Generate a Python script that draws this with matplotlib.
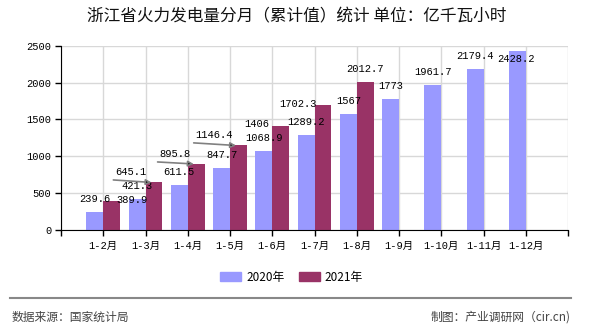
import matplotlib.pyplot as plt
from matplotlib.patches import Patch
from matplotlib.lines import Line2D

# data (亿千瓦小时, cumulative)
months = ['1-2月', '1-3月', '1-4月', '1-5月', '1-6月', '1-7月',
          '1-8月', '1-9月', '1-10月', '1-11月', '1-12月']
values_2020 = [239.6, 421.3, 611.5, 847.7, 1068.9, 1289.2,
               1567, 1773, 1961.7, 2179.4, 2428.2]
values_2021 = [389.9, 645.1, 895.8, 1146.4, 1406, 1702.3, 2012.7]

color_2020 = '#9999FF'
color_2021 = '#993366'
num_font = ['Liberation Mono', 'Noto Sans CJK SC']
cjk_font = ['Noto Sans CJK SC', 'DejaVu Sans']

PX = 0.72  # one pixel in points at dpi 100
UNIT_PX = 507 / 12  # pixels per category slot

fig = plt.figure(figsize=(5.9, 3.3), dpi=100)
ax = fig.add_axes([61 / 590, 100 / 330, 507 / 590, 184.3 / 330])

width = 0.4
x20 = [i + 1 - width / 2 for i in range(len(values_2020))]
x21 = [i + 1 + width / 2 for i in range(len(values_2021))]
ax.bar(x20, values_2020, width=width, color=color_2020, zorder=2)
ax.bar(x21, values_2021, width=width, color=color_2021, zorder=2)

ax.set_xlim(0, 12)
ax.set_ylim(0, 2500)
ax.set_yticks(range(0, 2501, 500))
ax.set_xticks(range(0, 13))
ax.set_xticklabels([''] + months + [''])
for lab in ax.get_xticklabels() + ax.get_yticklabels():
    lab.set_fontfamily(num_font)
    lab.set_fontsize(7.5)
ax.tick_params(axis='both', direction='out', length=4, width=1, color='black')
ax.tick_params(axis='x', pad=4)
ax.tick_params(axis='y', pad=3)
ax.grid(True, color='#d8d8d8', linewidth=1, zorder=0)
ax.set_axisbelow(True)
for s in ['top', 'right']:
    ax.spines[s].set_visible(False)
for s in ['left', 'bottom']:
    ax.spines[s].set_color('black')
    ax.spines[s].set_zorder(3)

# label placement tweaks (pixel offsets: dx, dy above bar top, leader line)
shift_2020 = {10: (-1.5, -8, False)}
shift_2021 = {0: (20, 1, False), 1: (-23, 10.5, True), 2: (-21, 10, True),
              3: (-24, 10.6, True), 4: (-24, 2.5, False), 5: (-25, 0.6, False)}


def put_labels(xs, vals, shifts):
    for i, (x, v) in enumerate(zip(xs, vals)):
        dx, dy, leader = shifts.get(i, (0, 13, False))
        ax.annotate(f'{v:g}', xy=(x, v), xytext=(dx * PX, dy * PX),
                    textcoords='offset points', ha='center', va='center',
                    fontsize=7.5, family=num_font, zorder=5)
        if leader:
            half = len(f'{v:g}') * 6.25 / 2
            # arrow tip a few pixels inside the bar's top-left corner
            tip_shift = -width / 2 * UNIT_PX + 6
            tip_x = x + tip_shift / UNIT_PX
            start_dx = dx - half - 2 - tip_shift
            ax.annotate('', xy=(tip_x, v),
                        xytext=(start_dx * PX, (dy - 8) * PX),
                        textcoords='offset points',
                        arrowprops=dict(arrowstyle='-|>', color='#808080',
                                        fc='black', ec='#808080', lw=1.2,
                                        mutation_scale=8,
                                        shrinkA=0, shrinkB=0),
                        zorder=5)


put_labels(x20, values_2020, shift_2020)
put_labels(x21, values_2021, shift_2021)

fig.text(0.503, 1 - 17 / 330, '浙江省火力发电量分月（累计值）统计 单位：亿千瓦小时',
         ha='center', va='center', fontsize=12, family=cjk_font, color='#111111')

handles = [Patch(color=color_2020, label='2020年'),
           Patch(color=color_2021, label='2021年')]
fig.legend(handles=handles, loc='center', bbox_to_anchor=(0.494, 1 - 277 / 330),
           ncol=2, frameon=False, prop={'family': cjk_font, 'size': 8.5},
           handlelength=1.8, handleheight=0.75, handletextpad=0.4,
           columnspacing=1.2)

fig.add_artist(Line2D([10 / 590, 571 / 590], [1 - 298 / 330] * 2,
                      color='#888888', lw=1.5))
fig.text(12 / 590, 1 - 317 / 330, '数据来源：国家统计局', ha='left', va='center',
         fontsize=8.5, family=cjk_font, color='#444444')
fig.text(571 / 590, 1 - 317 / 330, '制图：产业调研网（cir.cn)', ha='right', va='center',
         fontsize=8.5, family=cjk_font, color='#444444')

fig.savefig('out.png', dpi=100)
